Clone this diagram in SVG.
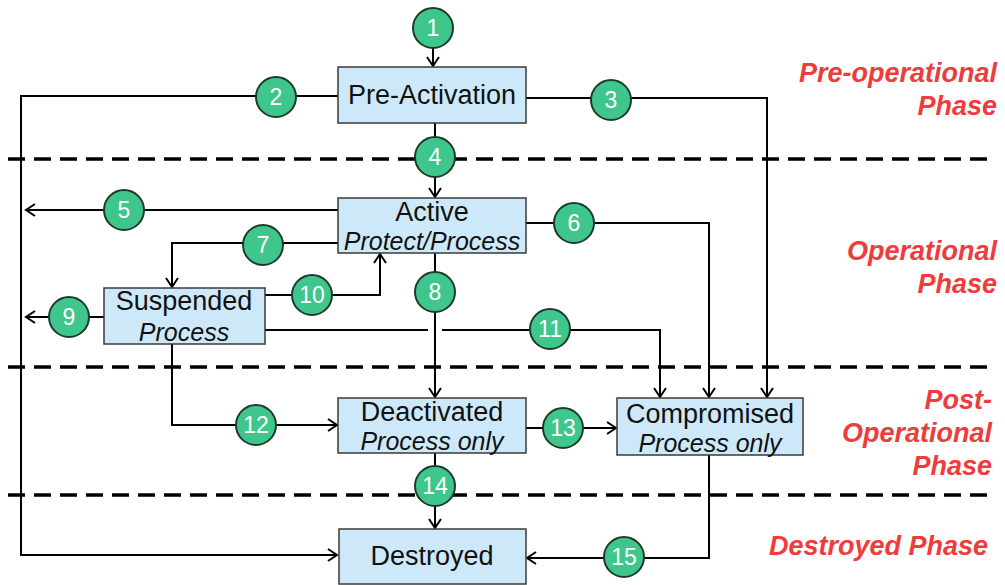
<svg xmlns="http://www.w3.org/2000/svg" width="1005" height="585" viewBox="0 0 1005 585">
<style>
.box{fill:#cde9f9;stroke:#3a3a3a;stroke-width:1.5}
.t{font-family:"Liberation Sans",Arial,sans-serif;font-size:27px;fill:#111;text-anchor:middle}
.ti{font-family:"Liberation Sans",Arial,sans-serif;font-size:25px;font-style:italic;fill:#111;text-anchor:middle}
.c{fill:#3fc68c;stroke:#1d3b2c;stroke-width:2}
.n{font-family:"Liberation Sans",Arial,sans-serif;font-size:23px;fill:#fff;text-anchor:middle}
.ln{fill:none;stroke:#000;stroke-width:2}
.dash{stroke:#000;stroke-width:3.5;stroke-dasharray:17 9;fill:none}
.ph{font-family:"Liberation Sans",Arial,sans-serif;font-size:27px;font-weight:bold;font-style:italic;fill:#ee3c3c;text-anchor:end}
</style>
<defs>
<marker id="a" markerUnits="userSpaceOnUse" markerWidth="20" markerHeight="20" refX="0" refY="0" viewBox="-12 -10 14 20" orient="auto">
<path d="M-9,-6 L0,0 L-9,6" fill="none" stroke="#000" stroke-width="2"/>
</marker>
</defs>
<g id="phases">
<line class="dash" x1="8" y1="159" x2="990" y2="159"/>
<line class="dash" x1="8" y1="367" x2="990" y2="367"/>
<line class="dash" x1="8" y1="495" x2="990" y2="495"/>
<text class="ph" x="997" y="82">Pre-operational</text>
<text class="ph" x="997" y="115">Phase</text>
<text class="ph" x="997" y="260">Operational</text>
<text class="ph" x="997" y="293">Phase</text>
<text class="ph" x="992" y="409">Post-</text>
<text class="ph" x="992" y="442">Operational</text>
<text class="ph" x="992" y="475">Phase</text>
<text class="ph" x="988" y="555">Destroyed Phase</text>
</g>
<g id="connectors">
<line class="ln" x1="433" y1="48" x2="433" y2="66" marker-end="url(#a)"/>
<polyline class="ln" points="338,96 21,96 21,555 337,555" marker-end="url(#a)"/>
<polyline class="ln" points="526,98 767,98 767,397" marker-end="url(#a)"/>
<line class="ln" x1="435" y1="123" x2="435" y2="197" marker-end="url(#a)"/>
<line class="ln" x1="338" y1="210" x2="26" y2="210" marker-end="url(#a)"/>
<polyline class="ln" points="526,223 709,223 709,397" marker-end="url(#a)"/>
<polyline class="ln" points="338,243 172,243 172,287" marker-end="url(#a)"/>
<line class="ln" x1="435" y1="253" x2="435" y2="397" marker-end="url(#a)"/>
<line class="ln" x1="104" y1="317" x2="26" y2="317" marker-end="url(#a)"/>
<polyline class="ln" points="265,295 380,295 380,254" marker-end="url(#a)"/>
<line class="ln" x1="265" y1="330" x2="428" y2="330"/>
<polyline class="ln" points="442,330 660,330 660,397" marker-end="url(#a)"/>
<polyline class="ln" points="172,344 172,425 337,425" marker-end="url(#a)"/>
<line class="ln" x1="526" y1="428" x2="616" y2="428" marker-end="url(#a)"/>
<line class="ln" x1="435" y1="453" x2="435" y2="528" marker-end="url(#a)"/>
<polyline class="ln" points="709,455 709,558 527,558" marker-end="url(#a)"/>
</g>
<g id="node-preactivation">
<rect class="box" x="338" y="67" width="188" height="56"/>
<text class="t" x="432" y="104">Pre-Activation</text>
</g>
<g id="node-active">
<rect class="box" x="338" y="198" width="188" height="55"/>
<text class="t" x="432" y="221">Active</text>
<text class="ti" x="432" y="250">Protect/Process</text>
</g>
<g id="node-suspended">
<rect class="box" x="104" y="288" width="161" height="56"/>
<text class="t" x="184" y="310">Suspended</text>
<text class="ti" x="184" y="341">Process</text>
</g>
<g id="node-deactivated">
<rect class="box" x="338" y="398" width="188" height="55"/>
<text class="t" x="432" y="421">Deactivated</text>
<text class="ti" x="432" y="450">Process only</text>
</g>
<g id="node-compromised">
<rect class="box" x="617" y="398" width="186" height="57"/>
<text class="t" x="710" y="423">Compromised</text>
<text class="ti" x="710" y="452">Process only</text>
</g>
<g id="node-destroyed">
<rect class="box" x="339" y="529" width="187" height="55"/>
<text class="t" x="432" y="565">Destroyed</text>
</g>
<g id="labels">
<g id="b1"><circle class="c" cx="433" cy="28" r="20"/><text class="n" x="433" y="36">1</text></g>
<g id="b2"><circle class="c" cx="276" cy="97" r="20"/><text class="n" x="276" y="105">2</text></g>
<g id="b3"><circle class="c" cx="611" cy="100" r="20"/><text class="n" x="611" y="108">3</text></g>
<g id="b4"><circle class="c" cx="435" cy="157" r="20"/><text class="n" x="435" y="165">4</text></g>
<g id="b5"><circle class="c" cx="124" cy="210" r="20"/><text class="n" x="124" y="218">5</text></g>
<g id="b6"><circle class="c" cx="574" cy="223" r="20"/><text class="n" x="574" y="231">6</text></g>
<g id="b7"><circle class="c" cx="263" cy="245" r="20"/><text class="n" x="263" y="253">7</text></g>
<g id="b8"><circle class="c" cx="435" cy="292" r="20"/><text class="n" x="435" y="300">8</text></g>
<g id="b9"><circle class="c" cx="69" cy="317" r="20"/><text class="n" x="69" y="325">9</text></g>
<g id="b10"><circle class="c" cx="312" cy="295" r="20"/><text class="n" x="312" y="303">10</text></g>
<g id="b11"><circle class="c" cx="550" cy="329" r="20"/><text class="n" x="550" y="337">11</text></g>
<g id="b12"><circle class="c" cx="256" cy="425" r="20"/><text class="n" x="256" y="433">12</text></g>
<g id="b13"><circle class="c" cx="563" cy="428" r="20"/><text class="n" x="563" y="436">13</text></g>
<g id="b14"><circle class="c" cx="435" cy="486" r="20"/><text class="n" x="435" y="494">14</text></g>
<g id="b15"><circle class="c" cx="624" cy="557" r="20"/><text class="n" x="624" y="565">15</text></g>
</g>
</svg>
